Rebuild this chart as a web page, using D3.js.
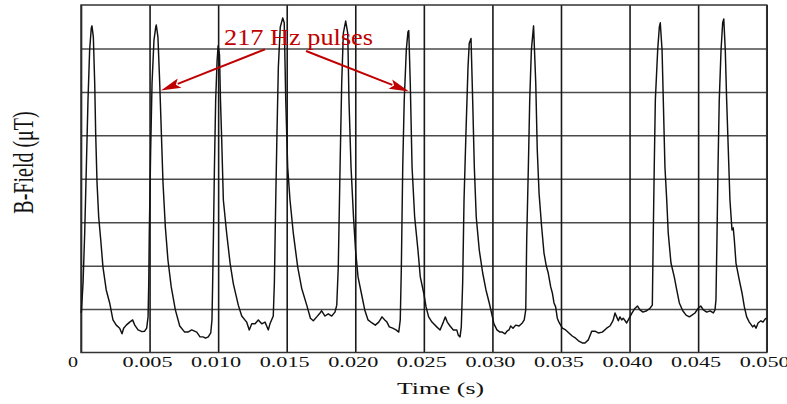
<!DOCTYPE html>
<html><head><meta charset="utf-8">
<script src="https://cdn.jsdelivr.net/npm/d3@7"></script>
<style>html,body{margin:0;padding:0;background:#fff;}svg{display:block;}
text{font-family:'Liberation Serif','Times New Roman',Times,serif;}</style>
</head><body>
<svg id="chart" width="787" height="404"></svg>
<script>
// Time (s)
const time = [
0.00002,0.00015,0.00027,0.00039,0.00051,0.00063,0.00075,0.00080,0.00090,0.00100,
0.00107,0.00117,0.00129,0.00144,0.00160,0.00184,0.00209,0.00233,0.00257,0.00282,
0.00299,0.00311,0.00330,0.00355,0.00377,0.00392,0.00416,0.00445,0.00464,0.00479,
0.00489,0.00494,0.00498,0.00508,0.00518,0.00532,0.00545,0.00549,0.00561,0.00574,
0.00586,0.00598,0.00615,0.00634,0.00658,0.00688,0.00720,0.00756,0.00780,0.00807,
0.00844,0.00868,0.00890,0.00908,0.00928,0.00946,0.00955,0.00960,0.00966,0.00973,
0.00982,0.00992,0.01000,0.01010,0.01017,0.01026,0.01038,0.01062,0.01087,0.01111,
0.01147,0.01172,0.01208,0.01227,0.01245,0.01269,0.01293,0.01318,0.01342,0.01366,
0.01378,0.01402,0.01410,0.01420,0.01429,0.01439,0.01453,0.01471,0.01482,0.01493,
0.01507,0.01524,0.01548,0.01580,0.01609,0.01646,0.01673,0.01694,0.01719,0.01743,
0.01755,0.01779,0.01803,0.01828,0.01852,0.01865,0.01876,0.01889,0.01901,0.01913,
0.01930,0.01945,0.01954,0.01969,0.01987,0.02002,0.02020,0.02044,0.02069,0.02093,
0.02122,0.02146,0.02171,0.02195,0.02215,0.02231,0.02248,0.02273,0.02297,0.02317,
0.02328,0.02336,0.02346,0.02357,0.02372,0.02384,0.02390,0.02401,0.02414,0.02433,
0.02457,0.02474,0.02499,0.02516,0.02535,0.02559,0.02594,0.02618,0.02642,0.02656,
0.02671,0.02691,0.02715,0.02740,0.02751,0.02764,0.02773,0.02783,0.02793,0.02807,
0.02822,0.02831,0.02844,0.02856,0.02868,0.02882,0.02904,0.02929,0.02953,0.02977,
0.02997,0.03011,0.03033,0.03055,0.03072,0.03092,0.03106,0.03121,0.03133,0.03150,
0.03170,0.03194,0.03218,0.03232,0.03243,0.03250,0.03262,0.03272,0.03284,0.03300,
0.03316,0.03327,0.03340,0.03359,0.03376,0.03393,0.03407,0.03425,0.03437,0.03449,
0.03461,0.03473,0.03485,0.03510,0.03534,0.03558,0.03582,0.03607,0.03631,0.03655,
0.03675,0.03699,0.03724,0.03748,0.03772,0.03801,0.03833,0.03857,0.03870,0.03881,
0.03894,0.03906,0.03918,0.03930,0.03943,0.03954,0.03979,0.03991,0.04014,0.04035,
0.04058,0.04076,0.04098,0.04125,0.04149,0.04166,0.04173,0.04180,0.04188,0.04205,
0.04217,0.04224,0.04237,0.04246,0.04258,0.04271,0.04282,0.04302,0.04326,0.04344,
0.04363,0.04388,0.04412,0.04436,0.04455,0.04477,0.04501,0.04519,0.04538,0.04563,
0.04587,0.04611,0.04623,0.04630,0.04638,0.04645,0.04654,0.04667,0.04679,0.04687,
0.04698,0.04708,0.04720,0.04732,0.04747,0.04756,0.04764,0.04776,0.04800,0.04820,
0.04837,0.04854,0.04873,0.04898,0.04910,0.04922,0.04937,0.04958,0.04973,0.04988,
0.04999
];
// B-Field (grid divisions)
const bField = [
0.91,1.60,2.75,4.27,5.81,6.96,7.47,7.52,7.26,6.20,
5.05,3.90,3.12,2.59,1.97,1.44,1.14,0.75,0.63,0.56,
0.43,0.56,0.63,0.70,0.75,0.63,0.52,0.48,0.49,0.56,
0.82,1.60,2.75,4.66,6.20,7.19,7.49,7.54,7.26,6.20,
5.05,3.90,2.89,2.13,1.51,0.98,0.61,0.47,0.47,0.52,
0.47,0.36,0.36,0.33,0.36,0.45,0.75,1.60,2.75,4.27,
5.81,6.69,7.06,6.85,5.81,4.89,3.51,2.75,2.06,1.58,
1.09,0.84,0.70,0.52,0.66,0.66,0.75,0.66,0.70,0.52,
0.66,0.84,1.60,3.51,5.05,6.57,7.49,7.70,7.59,5.81,
4.27,3.51,2.75,1.97,1.48,1.09,0.79,0.73,0.82,0.91,
0.96,0.84,0.89,0.84,0.93,1.09,1.97,4.27,6.20,7.35,
7.63,7.35,5.81,4.27,3.12,2.36,1.74,1.37,0.98,0.75,
0.68,0.63,0.70,0.82,0.75,0.70,0.59,0.56,0.52,0.47,
0.75,1.97,4.27,5.81,6.96,7.38,7.41,6.20,4.27,3.12,
2.36,1.74,1.37,1.05,0.82,0.70,0.59,0.52,0.70,0.82,
0.70,0.61,0.52,0.52,0.40,0.36,0.59,1.60,3.51,5.05,
6.57,7.12,7.23,5.81,4.27,3.12,2.36,1.83,1.44,1.14,
0.86,0.66,0.52,0.47,0.47,0.43,0.49,0.52,0.61,0.56,
0.63,0.61,0.68,0.75,0.98,2.59,4.27,5.81,6.96,7.52,
6.20,4.66,3.67,2.89,2.29,1.99,1.83,1.51,1.37,1.14,
1.05,0.79,0.70,0.56,0.52,0.45,0.38,0.33,0.26,0.22,
0.22,0.29,0.49,0.49,0.45,0.47,0.56,0.61,0.68,0.75,
0.91,0.82,0.73,0.82,0.75,0.79,0.68,0.75,0.89,1.00,
1.07,0.98,0.93,0.96,1.02,1.09,2.75,4.27,5.81,6.96,
7.49,7.59,6.96,5.81,4.27,3.51,2.75,2.06,1.74,1.44,
1.14,0.96,0.86,0.82,0.86,0.91,1.02,1.07,0.98,0.93,
0.96,0.91,0.98,1.21,2.75,4.27,5.81,6.96,7.59,7.68,
6.96,5.81,4.66,3.51,2.82,2.87,2.59,2.06,1.67,1.37,
1.05,0.82,0.70,0.59,0.63,0.56,0.68,0.73,0.70,0.77,
0.79
];
const xTickValues = [0,0.005,0.010,0.015,0.020,0.025,0.030,0.035,0.040,0.045,0.050];
const xTickLabels = ["0","0.005","0.010","0.015","0.020","0.025","0.030","0.035","0.040","0.045","0.050"];
const yGridValues = [1,2,3,4,5,6,7];
const annotationText = "217 Hz pulses";
const annotationAnchor = [0.01043, 7.08];          // text start (time, field)
const arrowStarts = [[0.01342, 6.98],[0.01641, 6.94]];
const arrowTips   = [[0.00583, 6.03],[0.02392, 6.01]];

const svg = d3.select("#chart");
const L = 81, R = 766.7, T = 5, B = 352.5;
const x = d3.scaleLinear().domain([0, 0.05]).range([L, R]);
const y = d3.scaleLinear().domain([0, 8]).range([B, T]);

// horizontal grid
svg.append("g").attr("transform", `translate(${L},0)`)
  .call(d3.axisLeft(y).tickValues(yGridValues).tickSize(-(R - L)).tickFormat(""))
  .call(g => g.select(".domain").remove())
  .selectAll("line").attr("stroke", "#4a4a4a").attr("stroke-width", 1.5);

// vertical grid
svg.append("g").attr("transform", `translate(0,${B})`)
  .call(d3.axisBottom(x).tickValues(xTickValues).tickSize(-(B - T)).tickFormat(""))
  .call(g => g.select(".domain").remove())
  .selectAll("line").attr("stroke", "#1a1a1a").attr("stroke-width", 1.6);

// frame
svg.append("rect").attr("x", L).attr("y", T).attr("width", R - L).attr("height", B - T)
  .attr("fill", "none").attr("stroke", "#333").attr("stroke-width", 1.5);

// trace
const pts = time.map((t, i) => [t, bField[i]]);
svg.append("path").datum(pts)
  .attr("fill", "none").attr("stroke", "#111").attr("stroke-width", 1.45)
  .attr("stroke-linejoin", "round")
  .attr("d", d3.line().x(d => x(d[0])).y(d => y(d[1])));

// x tick labels
svg.append("g").selectAll("text").data(xTickValues).enter().append("text")
  .attr("x", (d, i) => x(d) + (i === 0 ? -8 : -2))
  .attr("y", 367)
  .attr("text-anchor", "middle")
  .attr("font-size", 14)
  .attr("fill", "#111")
  .attr("textLength", (d, i) => i === 0 ? 10 : 50)
  .attr("lengthAdjust", "spacingAndGlyphs")
  .text((d, i) => xTickLabels[i]);

// x axis title
svg.append("text")
  .attr("x", 440.5).attr("y", 394)
  .attr("text-anchor", "middle")
  .attr("font-size", 16.5).attr("fill", "#111")
  .attr("textLength", 87).attr("lengthAdjust", "spacingAndGlyphs")
  .text("Time (s)");

// y axis title
svg.append("text")
  .attr("transform", "translate(33,162.5) scale(1.5,1) rotate(-90)")
  .attr("text-anchor", "middle")
  .attr("font-size", 20).attr("fill", "#111")
  .text("B-Field (\u03bcT)");

// annotation
const red = "#c00000";
svg.append("text")
  .attr("x", x(annotationAnchor[0])).attr("y", y(annotationAnchor[1]))
  .attr("font-size", 24).attr("fill", red)
  .attr("textLength", 149).attr("lengthAdjust", "spacingAndGlyphs")
  .text(annotationText);

arrowStarts.forEach((s, i) => {
  const x1 = x(s[0]), y1 = y(s[1]);
  const x2 = x(arrowTips[i][0]), y2 = y(arrowTips[i][1]);
  const dx = x2 - x1, dy = y2 - y1, len = Math.hypot(dx, dy);
  const ux = dx / len, uy = dy / len;
  const hl = 20, hw = 5;
  const bx = x2 - ux * hl, by = y2 - uy * hl;
  svg.append("line").attr("x1", x1).attr("y1", y1).attr("x2", bx + ux * 2).attr("y2", by + uy * 2)
    .attr("stroke", red).attr("stroke-width", 2);
  svg.append("polygon")
    .attr("points", [[x2, y2], [bx - uy * hw, by + ux * hw], [bx + ux * 4, by + uy * 4], [bx + uy * hw, by - ux * hw]].map(p => p.join(",")).join(" "))
    .attr("fill", red);
});
</script>
</body></html>
